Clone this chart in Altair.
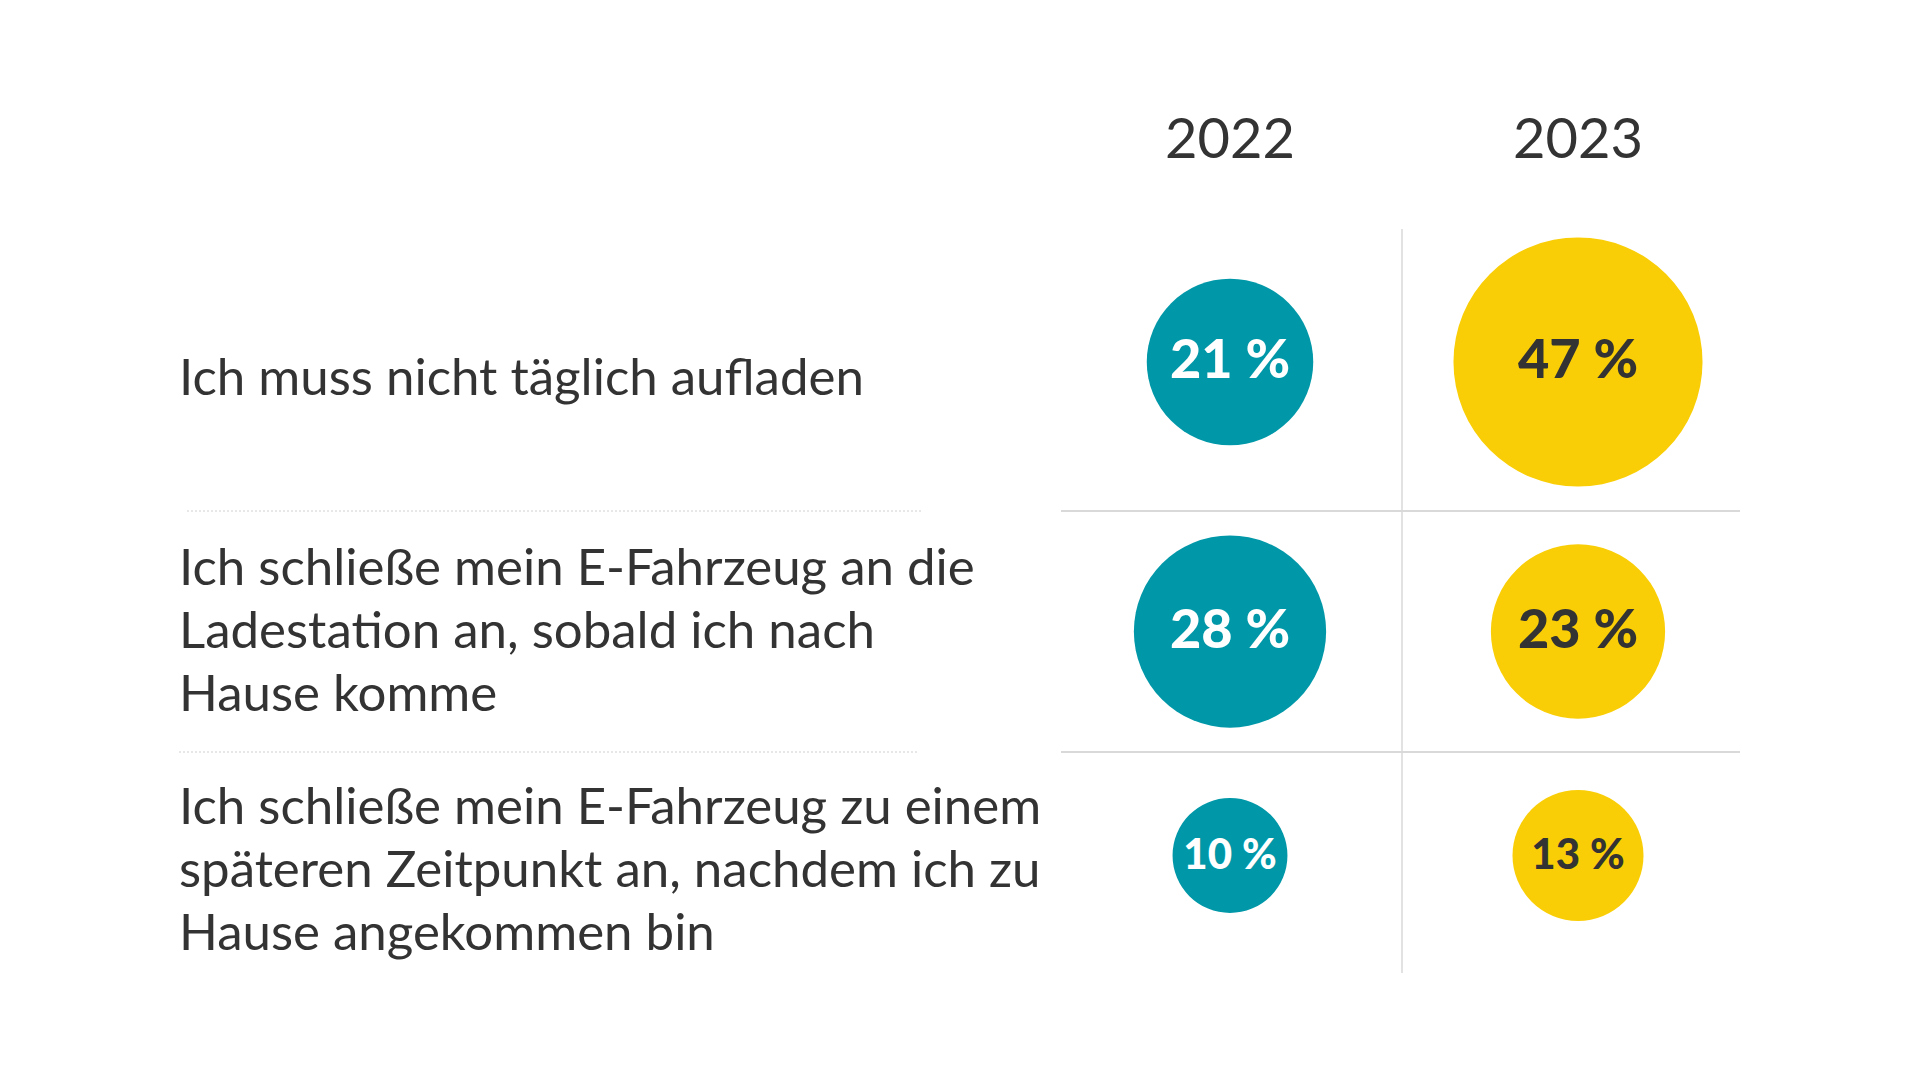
import altair as alt
import pandas as pd

# ---- data ----
years = ["2022", "2023"]
statements = [
    "Ich muss nicht täglich aufladen",
    "Ich schließe mein E-Fahrzeug an die\nLadestation an, sobald ich nach\nHause komme",
    "Ich schließe mein E-Fahrzeug zu einem\nspäteren Zeitpunkt an, nachdem ich zu\nHause angekommen bin",
]
values_2022 = [21, 28, 10]
values_2023 = [47, 23, 13]

# ---- styling ----
TEAL = "#0098A8"
YELLOW = "#FACE06"
INK = "#333333"
FONT = "Lato"
W = 1561
HEADER_H = 186
ROW_H = [282, 241, 221]
CIRCLE_OFF = [-8, 0, -7]
LABEL_DY = [10, -62, -54]

values_df = pd.DataFrame(
    [
        {"row": i, "statement": s, "year": y, "value": v}
        for i, s in enumerate(statements)
        for y, v in zip(years, (values_2022[i], values_2023[i]))
    ]
)
stmt_df = pd.DataFrame({"row": list(range(len(statements))), "statement": statements})
years_df = pd.DataFrame({"year": years})

x_scale = alt.Scale(domain=years, range=[877, 1573], paddingInner=0, paddingOuter=0)
size_scale = alt.Scale(domain=[0, 50], range=[0, 66000], zero=True)


def row_panel(i):
    h = ROW_H[i]
    vals = alt.Chart(values_df).transform_filter(alt.datum.row == i)
    stmt = alt.Chart(stmt_df).transform_filter(alt.datum.row == i)

    label = stmt.mark_text(
        align="left", baseline="middle", lineBreak="\n", lineHeight=63,
        font=FONT, fontSize=51, color=INK, dy=LABEL_DY[i],
    ).encode(
        x=alt.value(0),
        y=alt.Y("statement:N", axis=None),
        text="statement:N",
    )

    circles = vals.mark_circle(opacity=1, yOffset=CIRCLE_OFF[i]).encode(
        x=alt.X("year:N", scale=x_scale, axis=None),
        y=alt.Y("statement:N", axis=None),
        size=alt.Size("value:Q", scale=size_scale, legend=None),
        color=alt.Color("year:N", scale=alt.Scale(domain=years, range=[TEAL, YELLOW]), legend=None),
    )

    value_text = vals.transform_calculate(
        label="datum.value + ' %'"
    ).mark_text(
        font=FONT, fontWeight=900, baseline="middle", align="center", dy=CIRCLE_OFF[i],
    ).encode(
        x=alt.X("year:N", scale=x_scale, axis=None),
        y=alt.Y("statement:N", axis=None),
        text="label:N",
        color=alt.condition(alt.datum.year == "2022", alt.value("white"), alt.value(INK)),
        size=alt.condition(alt.datum.value >= 20, alt.value(54), alt.value(42)),
    )

    vrule = stmt.mark_rule(color="#d9d9d9", strokeWidth=1.5).encode(
        x=alt.value(1223), y=alt.value(0), y2=alt.value(h)
    )

    layers = [vrule]
    if i < len(statements) - 1:
        solid = stmt.mark_rule(color="#d9d9d9", strokeWidth=2).encode(
            x=alt.value(882), x2=alt.value(W), y=alt.value(h)
        )
        dotted = stmt.mark_rule(color="#d0d0d0", strokeWidth=1, strokeDash=[2, 2]).encode(
            x=alt.value(8 if i == 0 else 0), x2=alt.value(743 if i == 0 else 738), y=alt.value(h)
        )
        layers += [solid, dotted]
    layers += [circles, value_text, label]
    return alt.layer(*layers).properties(width=W, height=h)


header = alt.Chart(years_df).mark_text(
    font=FONT, fontSize=56, color=INK, baseline="middle", align="center", dy=5
).encode(
    x=alt.X("year:N", scale=x_scale, axis=None),
    text="year:N",
).properties(width=W, height=HEADER_H)

chart = alt.vconcat(
    header, *[row_panel(i) for i in range(len(statements))],
    spacing=0, bounds="flush",
).properties(
    padding={"left": 178, "top": 43, "right": 20, "bottom": 20},
    background="white",
).configure_view(stroke=None)

chart.save("out.html", embed_options={"renderer": "svg", "actions": False})
